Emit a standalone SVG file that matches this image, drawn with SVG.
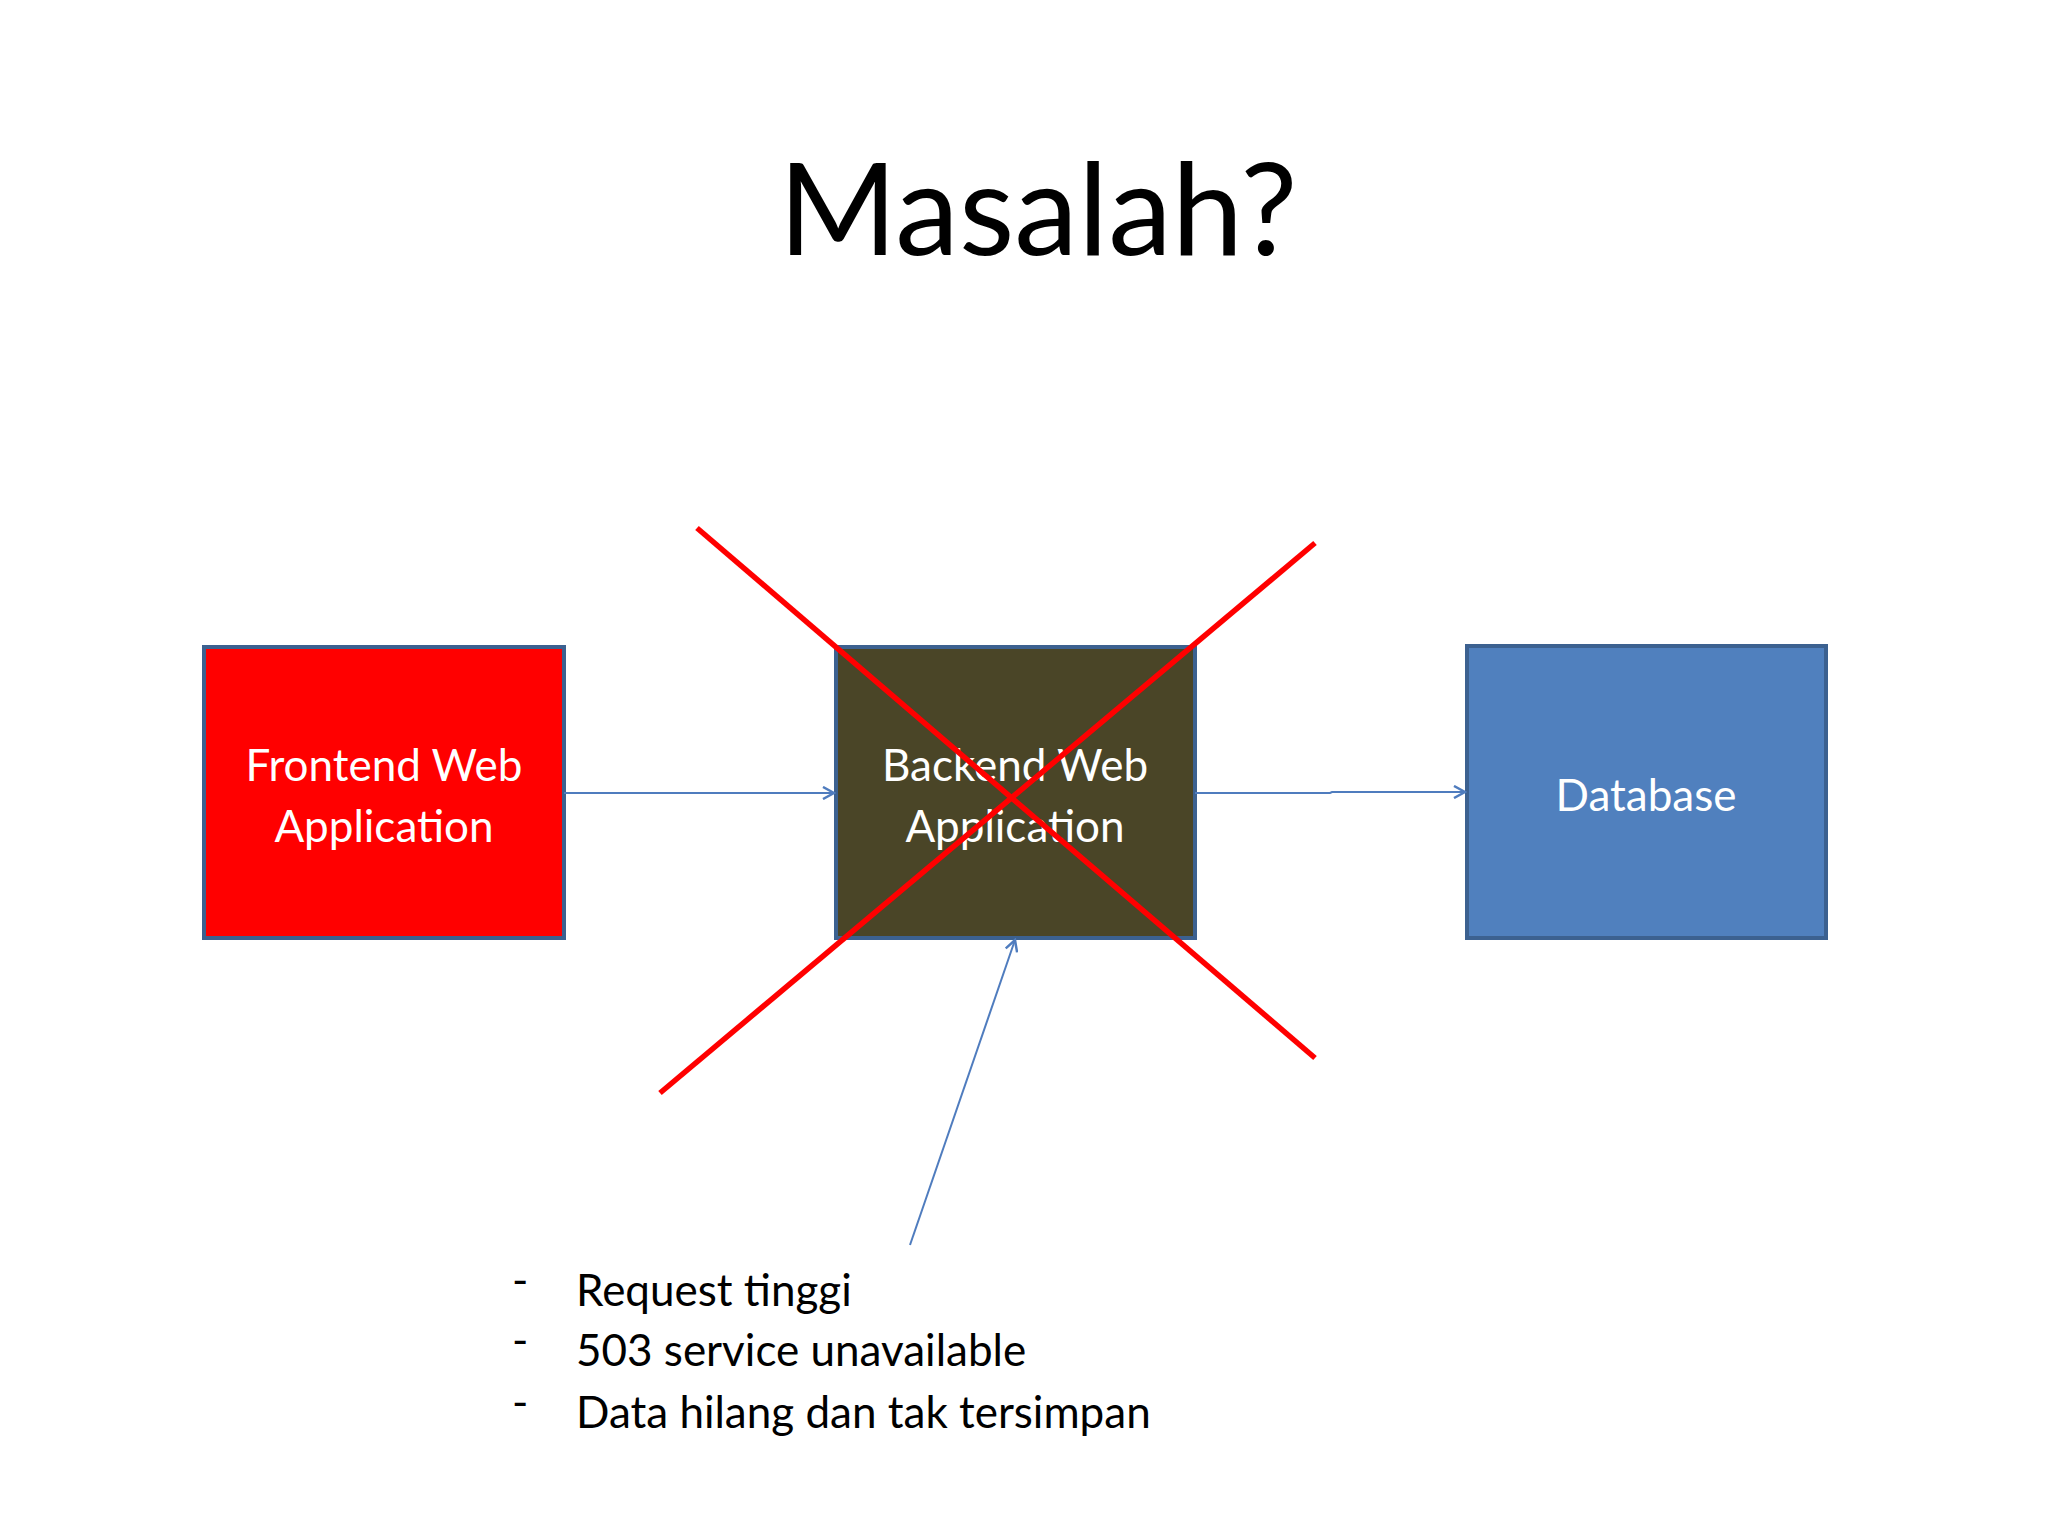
<svg xmlns="http://www.w3.org/2000/svg" width="2048" height="1536" viewBox="0 0 2048 1536">
<style>
text{font-family:Lato,"Open Sans","Liberation Sans",sans-serif}
.box{stroke:#3c6190;stroke-width:4}
.lbl{fill:#fff;font-size:44px;text-anchor:middle}
.con{stroke:#4f7cbe;stroke-width:2;fill:none}
.red{stroke:#ff0000;stroke-width:5.5}
.blt{font-size:44px;fill:#000}
</style>
<defs><marker id="a" markerWidth="14" markerHeight="14" refX="12" refY="7" orient="auto" markerUnits="userSpaceOnUse"><path d="M1,1 L12,7 L1,13" fill="none" stroke="#4f7cbe" stroke-width="2.5"/></marker></defs>
<rect width="2048" height="1536" fill="#fff"/>
<text x="1038" y="255" font-size="128" text-anchor="middle">Masalah?</text>
<g id="frontend"><rect class="box" x="204" y="647" width="360" height="291" fill="#ff0000"/><text class="lbl" x="384" y="781">Frontend Web</text><text class="lbl" x="384" y="842">Application</text></g>
<g id="backend"><rect class="box" x="836" y="647" width="359" height="291" fill="#4a4527"/><text class="lbl" x="1015" y="781">Backend Web</text><text class="lbl" x="1015" y="842">Application</text></g>
<g id="database"><rect class="box" x="1467" y="646" width="359" height="292" fill="#5080be"/><text class="lbl" x="1646" y="811">Database</text></g>
<g id="connectors">
<path class="con" d="M564 793 H834" marker-end="url(#a)"/>
<path class="con" d="M1195 793 H1330 L1332 792 H1465" marker-end="url(#a)"/>
<path class="con" d="M910 1245 L1015 940" marker-end="url(#a)"/>
</g>
<g id="cross"><line class="red" x1="697" y1="528" x2="1315" y2="1058"/><line class="red" x1="1315" y1="543" x2="660" y2="1093"/></g>
<g id="bullets" class="blt">
<text x="512" y="1296" class="blt">-</text><text x="576" y="1306" class="blt">Request tinggi</text>
<text x="512" y="1356" class="blt">-</text><text x="576" y="1366" class="blt">503 service unavailable</text>
<text x="512" y="1418" class="blt">-</text><text x="576" y="1428" class="blt">Data hilang dan tak tersimpan</text>
</g>
</svg>
